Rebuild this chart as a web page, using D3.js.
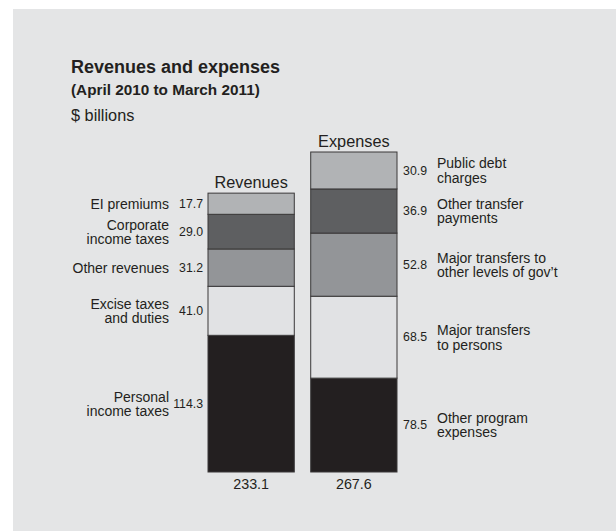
<!DOCTYPE html>
<html>
<head>
<meta charset="utf-8">
<script src="https://cdn.jsdelivr.net/npm/d3@7"></script>
<style>
    html, body { margin: 0; padding: 0; background: #ffffff; }
    svg { display: block; font-family: "Liberation Sans", Arial, Helvetica, sans-serif; }
</style>
</head>
<body>
<div id="chart"></div>
<script>
// Revenues and expenses, $ billions (stacked bottom to top)
const revenueLabels = [['Personal', 'income taxes'], ['Excise taxes', 'and duties'], ['Other revenues'], ['Corporate', 'income taxes'], ['EI premiums']];
const revenueValues = [114.3, 41.0, 31.2, 29.0, 17.7];
const expenseLabels = [['Other program', 'expenses'], ['Major transfers', 'to persons'], ['Major transfers to', 'other levels of gov\u2019t'], ['Other transfer', 'payments'], ['Public debt', 'charges']];
const expenseValues = [78.5, 68.5, 52.8, 36.9, 30.9];
const columns = ['Revenues', 'Expenses'];
const totals = ['233.1', '267.6'];
const shades = ['#231f20', '#e1e2e4', '#939598', '#5e5f61', '#b1b3b5'];

const width = 616, height = 531;

const svg = d3.select('#chart').append('svg')
    .attr('width', width)
    .attr('height', height);

// Panel background
svg.append('rect')
    .attr('x', 13).attr('y', 9)
    .attr('width', width - 13).attr('height', height - 9)
    .attr('fill', '#e4e5e6');

// Titles
svg.append('text').attr('x', 71).attr('y', 73)
    .attr('font-size', 18).attr('font-weight', 'bold').attr('fill', '#231f20')
    .text('Revenues and expenses');
svg.append('text').attr('x', 71).attr('y', 95)
    .attr('font-size', 15.3).attr('font-weight', 'bold').attr('fill', '#231f20')
    .text('(April 2010 to March 2011)');
svg.append('text').attr('x', 71).attr('y', 121)
    .attr('font-size', 16.3).attr('fill', '#231f20')
    .text('$ billions');

const x = d3.scaleBand().domain(columns).range([208, 397]).paddingInner(0.16);
const y = d3.scaleLinear().domain([0, 267.6]).range([472, 152]);

function stack(values) {
    let acc = 0;
    return values.map((v, i) => {
        const d = { value: v, y0: acc, y1: acc + v, i: i };
        acc += v;
        return d;
    });
}

const series = [
    { name: 'Revenues', labels: revenueLabels, parts: stack(revenueValues), total: totals[0], side: 'left' },
    { name: 'Expenses', labels: expenseLabels, parts: stack(expenseValues), total: totals[1], side: 'right' }
];

series.forEach(s => {
    const g = svg.append('g');
    const x0 = x(s.name), bw = x.bandwidth();

    g.selectAll('rect')
        .data(s.parts)
        .enter()
        .append('rect')
        .attr('x', x0)
        .attr('y', d => y(d.y1))
        .attr('width', bw)
        .attr('height', d => y(d.y0) - y(d.y1))
        .attr('fill', d => shades[d.i])
        .attr('stroke', '#3a3839')
        .attr('stroke-width', 1);

    const top = y(d3.sum(s.parts, d => d.value));
    g.append('text')
        .attr('x', x0 + bw / 2).attr('y', top - 5)
        .attr('text-anchor', 'middle').attr('font-size', 16.3).attr('fill', '#231f20')
        .text(s.name);

    g.append('text')
        .attr('x', x0 + bw / 2).attr('y', 489)
        .attr('text-anchor', 'middle').attr('font-size', 14.3).attr('fill', '#231f20')
        .text(s.total);

    s.parts.forEach(d => {
        const mid = (y(d.y0) + y(d.y1)) / 2;
        const lines = s.labels[d.i];
        const left = s.side === 'left';
        g.append('text')
            .attr('x', left ? x0 - 5 : x0 + bw + 30)
            .attr('y', mid).attr('dy', '0.35em')
            .attr('text-anchor', 'end').attr('font-size', 12.3).attr('fill', '#231f20')
            .text(d.value.toFixed(1));
        const lab = g.append('text')
            .attr('x', left ? x0 - 39 : x0 + bw + 40)
            .attr('text-anchor', left ? 'end' : 'start')
            .attr('font-size', 14).attr('fill', '#231f20');
        lines.forEach((line, k) => {
            const off = lines.length === 1 ? 0 : (k === 0 ? -7 : 7.5);
            lab.append('tspan')
                .attr('x', left ? x0 - 39 : x0 + bw + 40)
                .attr('y', mid + off).attr('dy', '0.35em')
                .text(line);
        });
    });
});
</script>
</body>
</html>
